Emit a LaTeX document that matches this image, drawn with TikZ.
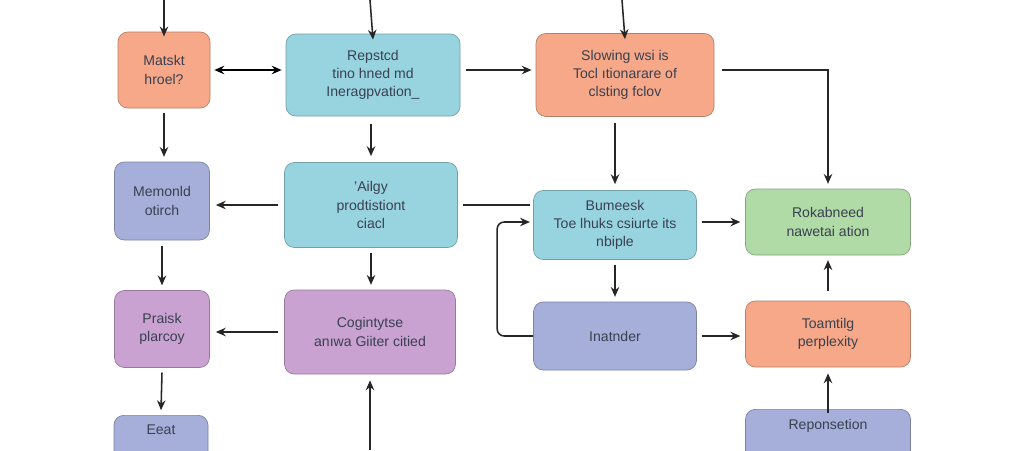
\documentclass[tikz,border=0pt]{standalone}
\usepackage{fontspec}
\setmainfont{Liberation Sans}
\usetikzlibrary{arrows.meta}
\definecolor{cor}{HTML}{F6A888}\definecolor{ccy}{HTML}{98D4E0}
\definecolor{cbl}{HTML}{A6AFDA}\definecolor{cgr}{HTML}{B0DBA6}
\definecolor{cpu}{HTML}{C9A2D2}\definecolor{txt}{HTML}{3A4050}
\begin{document}
\begin{tikzpicture}[x=0.025cm,y=-0.025cm,
  box/.style={draw=#1!75!black,fill=#1,rounded corners=7pt,line width=0.5pt,
    inner sep=0pt,align=center,text=txt,font=\fontsize{10}{13}\selectfont},
  arr/.style={-{Stealth[length=7pt,width=6pt]},line width=1.1pt,draw=black!85},
  ln/.style={line width=1.1pt,draw=black!85}]
\useasboundingbox (0,0) rectangle (1024,450);
\fill[white] (0,0) rectangle (1024,450);
\newcommand{\bx}[7]{\node[box=#6,minimum width=#4*0.025cm,minimum height=#5*0.025cm] (#1) at (#2,#3) {#7};}
\bx{A}{164}{70}{92}{76}{cor}{Matskt\\hroel?}
\bx{B}{373}{75}{174}{82}{ccy}{Repstcd\\tino hned md\\Ineragpvation\_}
\bx{C}{625}{75}{178}{83}{cor}{Slowing wsi is\\Tocl ıtionarare of\\clsting fclov}
\bx{D}{162}{201}{95}{78}{cbl}{Memonld\\otirch}
\bx{E}{371}{205}{173}{85}{ccy}{'Ailgy\\prodtistiont\\ciacl}
\bx{F}{615}{225}{163}{69}{ccy}{Bumeesk\\Toe lhuks csiurte its\\nbiple}
\bx{G}{828}{222}{165}{66}{cgr}{Rokabneed\\nawetai ation}
\bx{H}{162}{329}{95}{77}{cpu}{Praisk\\plarcoy}
\bx{I}{370}{332}{171}{84}{cpu}{Cogintytse\\anıwa Giiter citied}
\bx{J}{615}{336}{163}{68}{cbl}{Inatnder}
\bx{K}{828}{334}{165}{66}{cor}{Toamtilg\\perplexity}
\node[box=cbl,minimum width=94*0.025cm,minimum height=70*0.025cm,anchor=north] (L) at (161,415) {Eeat\\[1.6em]};
\node[box=cbl,minimum width=165*0.025cm,minimum height=70*0.025cm,anchor=north] (M) at (828,409) {Reponsetion\\[1.6em]};
\coordinate (tA) at (164,0);\coordinate (tB) at (370,0);\coordinate (tC) at (622,0);
\coordinate (bI) at (370,450);
\draw[arr] (tA) -- ([yshift=-0.12cm]A.north);
\draw[arr] (tB) -- ([yshift=-0.15cm]B.north);
\draw[arr] (tC) -- ([yshift=-0.15cm]C.north);
\draw[{Stealth[length=7pt,width=6pt]}-{Stealth[length=7pt,width=6pt]},line width=1.1pt] ([xshift=0.1cm]A.east) -- ([xshift=-0.1cm]B.west|-A.east);
\draw[arr] ([xshift=0.15cm]B.east|-A.east) -- ([xshift=-0.1cm]C.west|-A.east);
\draw[arr] ([yshift=-0.12cm]A.south) -- ([yshift=0.12cm]A.south|-D.north);
\draw[arr] ([yshift=-0.2cm]B.south-|E.north) -- ([yshift=0.15cm]E.north);
\draw[arr] ([yshift=-0.15cm]C.south-|F.north) -- ([yshift=0.15cm]F.north);
\draw[arr] ([xshift=0.2cm]C.east|-A.east) -| ([yshift=0.12cm]G.north);
\draw[arr] ([xshift=-0.15cm]E.west) -- ([xshift=0.15cm]D.east|-E.west);
\draw[ln] ([xshift=0.12cm]E.east) -- ([xshift=-0.08cm]F.west|-E.east);
\draw[arr] ([xshift=0.12cm]F.east|-G.west) -- ([xshift=-0.12cm]G.west);
\draw[arr] ([yshift=-0.12cm]F.south) -- ([yshift=0.12cm]J.north);
\draw[arr,rounded corners=5pt] (J.west) -- ++(-36,0) |- ([xshift=-0.08cm]F.west|-G.west);
\draw[arr] ([yshift=-0.15cm]D.south) -- ([yshift=0.12cm]H.north);
\draw[arr] ([yshift=-0.12cm]E.south) -- ([yshift=0.12cm]I.north-|E.south);
\draw[arr] ([xshift=-0.15cm]I.west) -- ([xshift=0.15cm]H.east|-I.west);
\draw[arr] ([xshift=0.12cm]J.east) -- ([xshift=-0.12cm]K.west|-J.east);
\draw[arr] ([yshift=0.25cm]K.north-|G.south) -- ([yshift=-0.12cm]G.south);
\draw[arr] ([yshift=-0.1cm]M.north) -- ([yshift=-0.15cm]K.south);
\draw[arr] ([yshift=-0.12cm]H.south) -- ([yshift=0.12cm]L.north);
\draw[arr] (bI) -- ([yshift=-0.15cm]I.south);
\end{tikzpicture}
\end{document}
